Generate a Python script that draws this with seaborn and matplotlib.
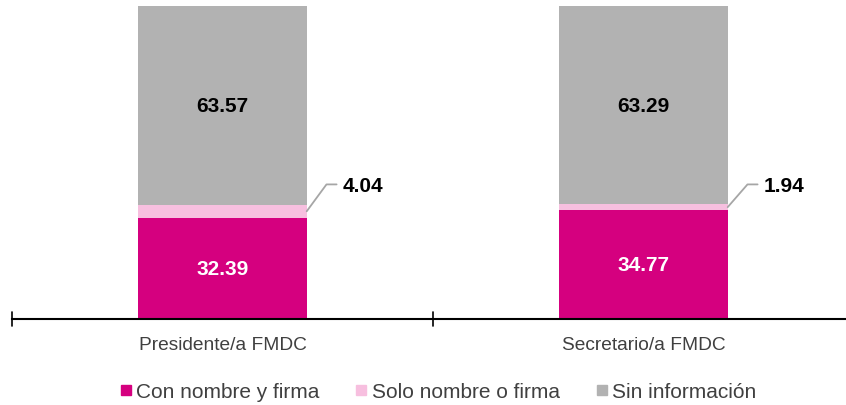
import matplotlib
matplotlib.use("Agg")
import matplotlib.pyplot as plt
from matplotlib.lines import Line2D
import numpy as np
import pandas as pd
import seaborn as sns

categories = ["Presidente/a FMDC", "Secretario/a FMDC"]
con_nombre_firma = [32.39, 34.77]
solo_nombre_firma = [4.04, 1.94]
sin_informacion = [63.57, 63.29]

series_names = ["Con nombre y firma", "Solo nombre o firma", "Sin información"]
colors = ["#D5007F", "#F7BFDF", "#B2B2B2"]

sns.set_theme(style="white")
plt.rcParams["font.family"] = ["Liberation Sans", "DejaVu Sans"]

fig = plt.figure(figsize=(8.46, 4.06), dpi=100)
ax = fig.add_axes([12 / 846, 86 / 406, 842 / 846, 313 / 406])

# Cumulative tops so overlapping bars read as a stacked column
c1 = np.array(con_nombre_firma)
c2 = c1 + np.array(solo_nombre_firma)
c3 = c2 + np.array(sin_informacion)
for top, col in zip([c3, c2, c1], colors[::-1]):
    df = pd.DataFrame({"cat": categories, "val": top})
    sns.barplot(data=df, x="cat", y="val", color=col, width=0.4,
                saturation=1, ax=ax, linewidth=0, order=categories)

ax.set_xlim(-0.5, 1.5)
ax.set_ylim(0, 100)
ax.set_xlabel("")
ax.set_ylabel("")
ax.set_yticks([])
for s in ["top", "right", "left"]:
    ax.spines[s].set_visible(False)
ax.spines["bottom"].set_color("black")
ax.spines["bottom"].set_linewidth(1.5)

# Category boundaries as tick marks crossing the axis
ax.set_xticks([0, 1])
ax.set_xticklabels(categories, fontsize=13.8, color="#404040")
ax.tick_params(axis="x", length=0, pad=12)
for xb in [-0.5, 0.5, 1.5]:
    ax.plot([xb, xb], [-2.1, 2.1], color="black", lw=1.2, clip_on=False)

half = 0.2
for i in range(len(categories)):
    ax.text(i, c1[i] / 2, f"{con_nombre_firma[i]:.2f}", ha="center", va="center",
            color="white", fontsize=15, fontweight="bold")
    ax.text(i, c2[i] + sin_informacion[i] / 2, f"{sin_informacion[i]:.2f}",
            ha="center", va="center", color="black", fontsize=15, fontweight="bold")
    ymid = c1[i] + solo_nombre_firma[i] / 2
    x0 = i + half
    ax.plot([x0, x0 + 0.047, x0 + 0.071], [ymid, 43.0, 43.0],
            color="#A6A6A6", lw=1.3, clip_on=False)
    ax.text(x0 + 0.085, 42.5, f"{solo_nombre_firma[i]:.2f}", ha="left", va="center",
            color="black", fontsize=15, fontweight="bold")

handles = [Line2D([], [], marker="s", linestyle="none", markersize=7.5,
                  markerfacecolor=c, markeredgecolor=c) for c in colors]
fig.legend(handles, series_names, loc="center", bbox_to_anchor=(438 / 846, 1 - 393 / 406),
           ncol=3, frameon=False, fontsize=15, handlelength=0.6, handletextpad=0.2,
           columnspacing=1.7, labelcolor="#404040")

fig.savefig("out.png", dpi=100)
